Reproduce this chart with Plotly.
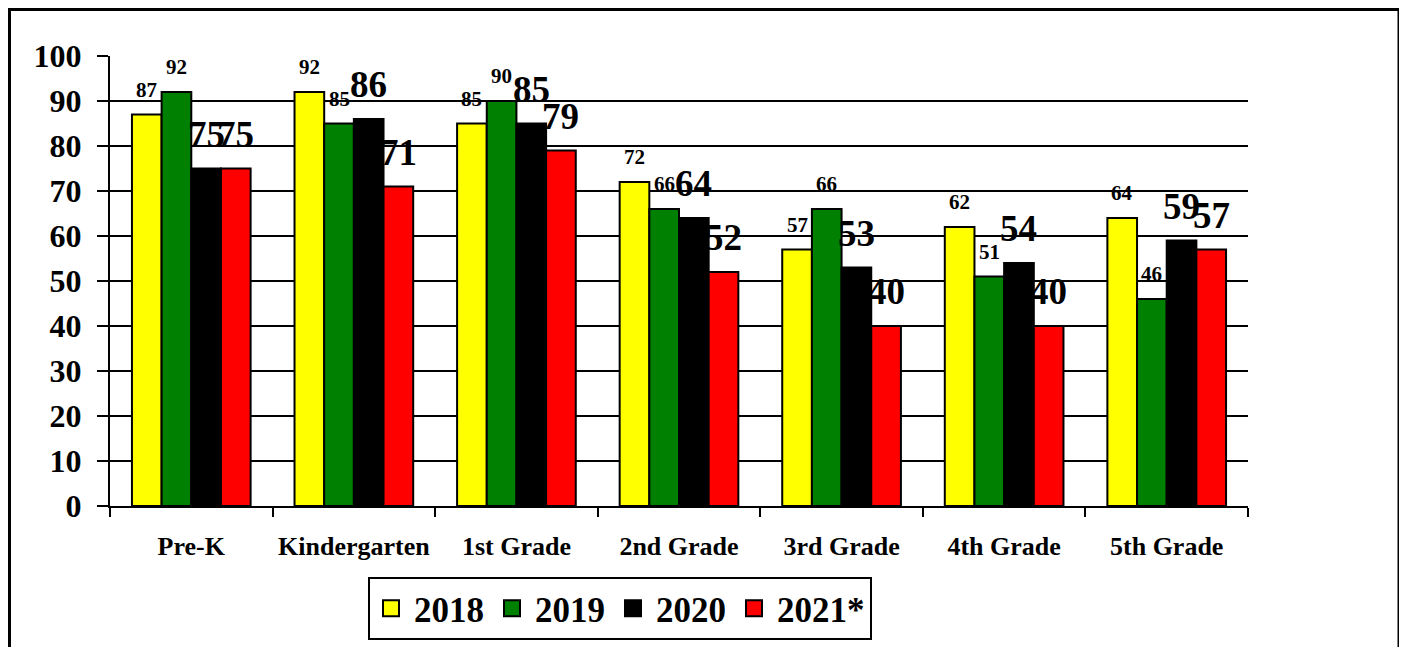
import plotly.graph_objects as go

categories = ["Pre-K", "Kindergarten", "1st Grade", "2nd Grade", "3rd Grade", "4th Grade", "5th Grade"]
years = ["2018", "2019", "2020", "2021*"]
v2018 = [87, 92, 85, 72, 57, 62, 64]
v2019 = [92, 85, 90, 66, 66, 51, 46]
v2020 = [75, 86, 85, 64, 53, 54, 59]
v2021 = [75, 71, 79, 52, 40, 40, 57]
series = [v2018, v2019, v2020, v2021]
colors = ["#FFFF00", "#008000", "#000000", "#FF0000"]
label_sizes = [21, 21, 37, 37]
label_yshift = [11, 11, 12, 12]

FONT = "Liberation Serif, Times New Roman, serif"

# the page body has an 8px margin; work in reference pixels and shift
OFF = 8
W, H = 1407 - OFF, 647 - OFF
PL, PR, PT, PB = 110, 1248, 56, 506  # plot area in reference pixels
ML, MT = PL - OFF, PT - OFF
MR, MB = W - (PR - OFF), H - (PB - OFF)
plot_w = PR - PL
plot_h = PB - PT
bargap = 0.27
cat_w = plot_w / len(categories)
bar_w = cat_w * (1 - bargap) / len(series)

fig = go.Figure()
for name, vals, col in zip(years, series, colors):
    fig.add_trace(go.Bar(
        x=categories, y=vals, name=name, legendgroup=name, showlegend=False,
        marker=dict(color=col, line=dict(color="black", width=2)),
    ))
# legend entries (larger square swatches than the default bar swatch)
for name, col in zip(years, colors):
    fig.add_trace(go.Scatter(
        x=[None], y=[None], name=name, legendgroup=name, mode="markers",
        marker=dict(symbol="square", size=16, color=col, line=dict(color="black", width=2)),
    ))

annotations = []
for i, vals in enumerate(series):
    for cat, v in zip(categories, vals):
        annotations.append(dict(
            x=cat, y=v, xref="x", yref="y", text=str(v), showarrow=False,
            xanchor="center", yanchor="bottom",
            xshift=(i - 1.5) * bar_w, yshift=label_yshift[i],
            font=dict(family=FONT, size=label_sizes[i], color="black", weight="bold"),
        ))

def px2paper_x(px):
    return (px - PL) / plot_w

def px2paper_y(py):
    return (PB - py) / plot_h

fig.update_layout(
    width=W, height=H,
    margin=dict(l=ML, r=MR, t=MT, b=MB, autoexpand=False),
    paper_bgcolor="white", plot_bgcolor="white",
    barmode="group", bargap=bargap, bargroupgap=0,
    font=dict(family=FONT, color="black", weight="bold"),
    annotations=annotations,
    showlegend=True,
    legend=dict(
        orientation="h", x=px2paper_x(368), y=px2paper_y(577),
        xanchor="left", yanchor="top",
        bgcolor="white", bordercolor="black", borderwidth=2,
        font=dict(family=FONT, size=35, color="black", weight="bold"),
        itemclick=False, itemdoubleclick=False, itemsizing="trace", itemwidth=36,
    ),
    shapes=[dict(
        type="rect", xref="paper", yref="paper",
        x0=px2paper_x(OFF + 1.5), x1=px2paper_x(1399),
        y0=px2paper_y(670), y1=px2paper_y(OFF + 1.5),
        line=dict(color="black", width=3), fillcolor="rgba(0,0,0,0)", layer="below",
    )],
    xaxis=dict(
        showline=True, linecolor="black", linewidth=2,
        ticks="outside", tickson="boundaries", ticklen=9, tickwidth=2, tickcolor="black",
        tickfont=dict(family=FONT, size=26, color="black", weight="bold"),
        ticklabelstandoff=16,
        showgrid=False,
    ),
    yaxis=dict(
        range=[0, 100], dtick=10, tick0=0,
        showline=True, linecolor="black", linewidth=2,
        ticks="outside", ticklen=11, tickwidth=2, tickcolor="black",
        tickfont=dict(family=FONT, size=32, color="black", weight="bold"),
        ticklabelstandoff=9,
        showgrid=True, gridcolor="black", gridwidth=2,
        zeroline=False,
    ),
)

fig.write_html("out.html")
